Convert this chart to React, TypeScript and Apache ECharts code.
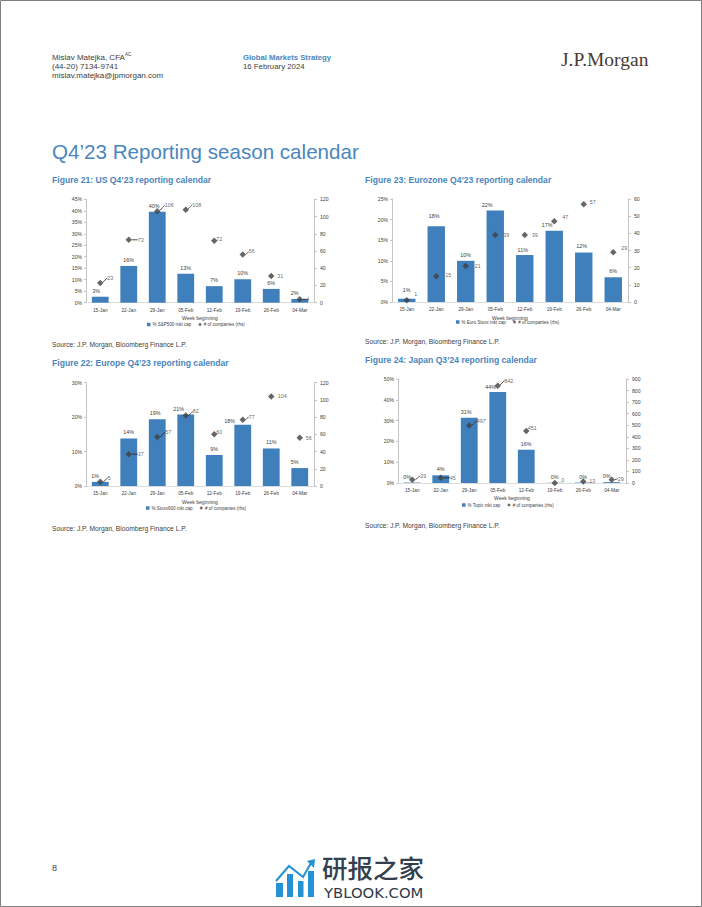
import React, { useEffect, useRef } from "react";
import * as echarts from "echarts";

const weeks = ["15-Jan", "22-Jan", "29-Jan", "05-Feb", "12-Feb", "19-Feb", "26-Feb", "04-Mar"];

const usCap = [2.6, 16, 39.6, 12.6, 7.2, 10.2, 6, 1.6];
const usCount = [23, 73, 106, 108, 72, 56, 31, 4];
const euroCap = [0.8, 18.4, 10, 22.2, 11.4, 17.3, 12, 6];
const euroCount = [1, 15, 21, 39, 39, 47, 57, 29];
const europeCap = [1.2, 13.8, 19.4, 20.8, 9, 17.8, 10.9, 5.2];
const europeCount = [5, 37, 57, 82, 60, 77, 104, 56];
const japanCap = [0.2, 3.7, 31.4, 43.8, 16, 0.1, 0.2, 0.4];
const japanCount = [29, 45, 497, 842, 451, 0, 13, 29];

const BLUE = "#4a86bd";
const BAR = "#3f7fbc";
const INK = "#404040";
const SANS = "'Liberation Sans', Arial, sans-serif";

type Off = [number, number];

const panels = [
  {
    capName: "% S&P500 mkt cap", cap: usCap, count: usCount,
    left: 86, right: 314, top: 199.3, bottom: 302.7,
    lMax: 45, lStep: 5, rMax: 120, rStep: 20,
    legendLeft: 147, legendTop: 322, nameGap: 13,
    barOff: [[-4, 0], [0, 0], [-3, 0], [0, 0], [0, 0], [0, 0], [0, 0], [-5, 0]] as Off[],
    dotOff: [[10, -5], [12, 0], [12, -6], [11, -5], [5, -2], [9, -3], [9, 0], [8, 0]] as Off[],
    leader: [1, 1, 1, 1, 0, 1, 0, 1],
  },
  {
    capName: "% Euro Stoxx mkt cap", cap: euroCap, count: euroCount,
    left: 392, right: 628, top: 199, bottom: 302,
    lMax: 25, lStep: 5, rMax: 60, rStep: 10,
    legendLeft: 456, legendTop: 319.5, nameGap: 13,
    barOff: [[0, -3], [-2, -4], [0, 0], [-8, 0], [-2, 1], [-7, 0], [-2, -1], [0, 0]] as Off[],
    dotOff: [[9, -6], [12, -1], [12, 0], [11, 0], [10, 0], [11, -4], [9, -2], [11, -4]] as Off[],
    leader: [0, 0, 0, 0, 0, 0, 0, 0],
  },
  {
    capName: "% Stoxx600 mkt cap", cap: europeCap, count: europeCount,
    left: 86, right: 314, top: 382.7, bottom: 486,
    lMax: 30, lStep: 10, rMax: 120, rStep: 20,
    legendLeft: 146, legendTop: 505.5, nameGap: 13,
    barOff: [[-5, 0], [0, 0], [-2, 0], [-7, 1], [0, 0], [-13, 2], [0, 0], [-5, 0]] as Off[],
    dotOff: [[9, -4], [12, 0], [11, -5], [10, -4], [5, -2], [9, -3], [11, 0], [9, 0]] as Off[],
    leader: [1, 1, 1, 1, 0, 1, 0, 0],
  },
  {
    capName: "% Topix mkt cap", cap: japanCap, count: japanCount,
    left: 398, right: 626, top: 379, bottom: 483,
    lMax: 50, lStep: 10, rMax: 900, rStep: 100,
    legendLeft: 462, legendTop: 502.5, nameGap: 12,
    barOff: [[-5, 0], [0, 0], [-3, 0], [-7, 1], [0, 0], [0, 0], [0, 0], [-5, 0]] as Off[],
    dotOff: [[11, -4], [12, 0], [12, -5], [11, -5], [6, -3], [8, -3], [9, 0], [9, -1]] as Off[],
    leader: [1, 1, 1, 1, 0, 0, 0, 1],
  },
];

const COUNT_NAME = "# of companies (rhs)";

const axisGrey = { lineStyle: { color: "#c4c4c4", width: 1 } };

function buildOption() {
  const grid: any[] = [];
  const xAxis: any[] = [];
  const yAxis: any[] = [];
  const series: any[] = [];
  const legend: any[] = [];

  panels.forEach((p, i) => {
    grid.push({ left: p.left, top: p.top, width: p.right - p.left, height: p.bottom - p.top, containLabel: false });
    xAxis.push({
      type: "category", gridIndex: i, data: weeks,
      name: "Week beginning", nameLocation: "middle", nameGap: p.nameGap,
      nameTextStyle: { fontSize: 5, color: INK, fontFamily: SANS },
      axisLine: { lineStyle: { color: "#dcdcdc", width: 1 } },
      axisTick: { show: false },
      axisLabel: { fontSize: 4.8, color: INK, fontFamily: SANS, margin: 5, interval: 0 },
    });
    yAxis.push({
      type: "value", gridIndex: i, min: 0, max: p.lMax, interval: p.lStep, position: "left",
      axisLine: { show: true, ...axisGrey },
      axisTick: { show: true, length: 2, ...axisGrey },
      splitLine: { show: false },
      axisLabel: { fontSize: 5.1, color: INK, fontFamily: SANS, margin: 4, formatter: "{value}%" },
    });
    yAxis.push({
      type: "value", gridIndex: i, min: 0, max: p.rMax, interval: p.rStep, position: "right",
      axisLine: { show: true, ...axisGrey },
      axisTick: { show: true, length: 3, ...axisGrey },
      splitLine: { show: false },
      axisLabel: { fontSize: 5.1, color: INK, fontFamily: SANS, margin: 6 },
    });
    series.push({
      type: "bar", name: p.capName, xAxisIndex: i, yAxisIndex: i * 2,
      data: p.cap, barWidth: "59%", itemStyle: { color: BAR },
      label: {
        show: true, position: "top", distance: 3.5, fontSize: 5.4, color: INK, fontFamily: SANS,
        formatter: (v: any) => `${Math.round(v.value)}%`,
      },
      labelLayout: (a: any) => ({ dx: p.barOff[a.dataIndex][0], dy: p.barOff[a.dataIndex][1] }),
      z: 2,
    });
    series.push({
      type: "scatter", name: COUNT_NAME, xAxisIndex: i, yAxisIndex: i * 2 + 1,
      symbol: "diamond", symbolSize: 6.5, itemStyle: { color: INK },
      data: p.count.map((v, j) => ({
        value: v,
        labelLine: { show: !!p.leader[j], lineStyle: { color: "#222", width: 0.8 }, length2: 0, smooth: 0.3 },
      })),
      label: { show: true, position: "inside", fontSize: 5.4, color: INK, fontFamily: SANS, formatter: "{c}" },
      labelLayout: (a: any) => ({ dx: p.dotOff[a.dataIndex][0], dy: p.dotOff[a.dataIndex][1] }),
      labelLine: { show: false },
      z: 4,
    });
    legend.push({
      left: p.legendLeft, top: p.legendTop, orient: "horizontal",
      data: [
        { name: p.capName, icon: "rect" },
        { name: COUNT_NAME, icon: "diamond" },
      ],
      itemWidth: 3.5, itemHeight: 3.5, itemGap: 7, padding: 0, selectedMode: false,
      textStyle: { fontSize: 4.5, color: INK, fontFamily: SANS, padding: [0, 0, 0, -3] },
    });
  });

  const t = (text: string, x: number, y: number, fontSize: number, fill: string, extra: any = {}) => ({
    type: "text", x, y, silent: true,
    style: { text, fontSize, fill, fontFamily: SANS, textVerticalAlign: "middle", ...extra },
  });
  const logoBlue = "#2492d4";
  const graphic = [
    { type: "rect", silent: true, z: -1, shape: { x: 0.5, y: 0.5, width: 701, height: 906 }, style: { fill: "none", stroke: "#808080", lineWidth: 1 } },
    t("Mislav Matejka, CFA", 52, 57.5, 8, INK),
    t("AC", 125, 54.5, 4.6, INK),
    t("(44-20) 7134-9741", 52, 66.5, 8, INK),
    t("mislav.matejka@jpmorgan.com", 52, 75.5, 8, INK),
    t("Global Markets Strategy", 243, 57.5, 7.7, BLUE, { fontWeight: "bold" }),
    t("16 February 2024", 243, 66.5, 7.8, INK),
    t("J.P.Morgan", 561, 59.5, 19.5, "#4a3b32", { fontFamily: "'Liberation Serif', serif" }),
    t("Q4\u201923 Reporting season calendar", 52, 151, 20.6, BLUE),
    t("Figure 21: US Q4\u201923 reporting calendar", 52, 180, 8.6, BLUE, { fontWeight: "bold" }),
    t("Figure 23: Eurozone Q4\u201923 reporting calendar", 365, 180, 8.6, BLUE, { fontWeight: "bold" }),
    t("Figure 22: Europe Q4\u201923 reporting calendar", 52, 363, 8.6, BLUE, { fontWeight: "bold" }),
    t("Figure 24: Japan Q3\u201924 reporting calendar", 365, 360, 8.6, BLUE, { fontWeight: "bold" }),
    t("Source: J.P. Morgan, Bloomberg Finance L.P.", 52, 344.5, 6.7, INK),
    t("Source: J.P. Morgan, Bloomberg Finance L.P.", 365, 341.5, 6.7, INK),
    t("Source: J.P. Morgan, Bloomberg Finance L.P.", 52, 528.5, 6.7, INK),
    t("Source: J.P. Morgan, Bloomberg Finance L.P.", 365, 525, 6.7, INK),
    t("8", 52, 868, 9, INK),
    // YBLOOK watermark logo
    { type: "rect", silent: true, shape: { x: 276, y: 883, width: 7, height: 14 }, style: { fill: logoBlue } },
    { type: "rect", silent: true, shape: { x: 287, y: 874, width: 6, height: 23 }, style: { fill: logoBlue } },
    { type: "rect", silent: true, shape: { x: 298, y: 881, width: 5.5, height: 16 }, style: { fill: logoBlue } },
    { type: "rect", silent: true, shape: { x: 308, y: 871, width: 6, height: 26 }, style: { fill: logoBlue } },
    { type: "polyline", silent: true, shape: { points: [[276, 881], [289, 866], [303, 877], [311, 863]] }, style: { stroke: logoBlue, lineWidth: 2, fill: "none" } },
    { type: "polygon", silent: true, shape: { points: [[307, 861], [315, 859], [314, 868]] }, style: { fill: logoBlue } },
    t("研报之家", 322, 866, 25.5, "#333f4d", { fontFamily: "'Noto Sans CJK SC', sans-serif", fontWeight: "500" }),
    t("YBLOOK.COM", 324, 892.5, 14.8, "#2f3b49", { fontFamily: "'DejaVu Sans', sans-serif" }),
  ];

  return { animation: false, backgroundColor: "#ffffff", grid, xAxis, yAxis, series, legend, graphic };
}

export default function App() {
  const ref = useRef<HTMLDivElement>(null);
  useEffect(() => {
    const chart = echarts.init(ref.current!, undefined, { renderer: "svg" });
    chart.setOption(buildOption() as any);
    return () => chart.dispose();
  }, []);
  return <div ref={ref} style={{ position: "fixed", left: 0, top: 0, width: 702, height: 907 }} />;
}
